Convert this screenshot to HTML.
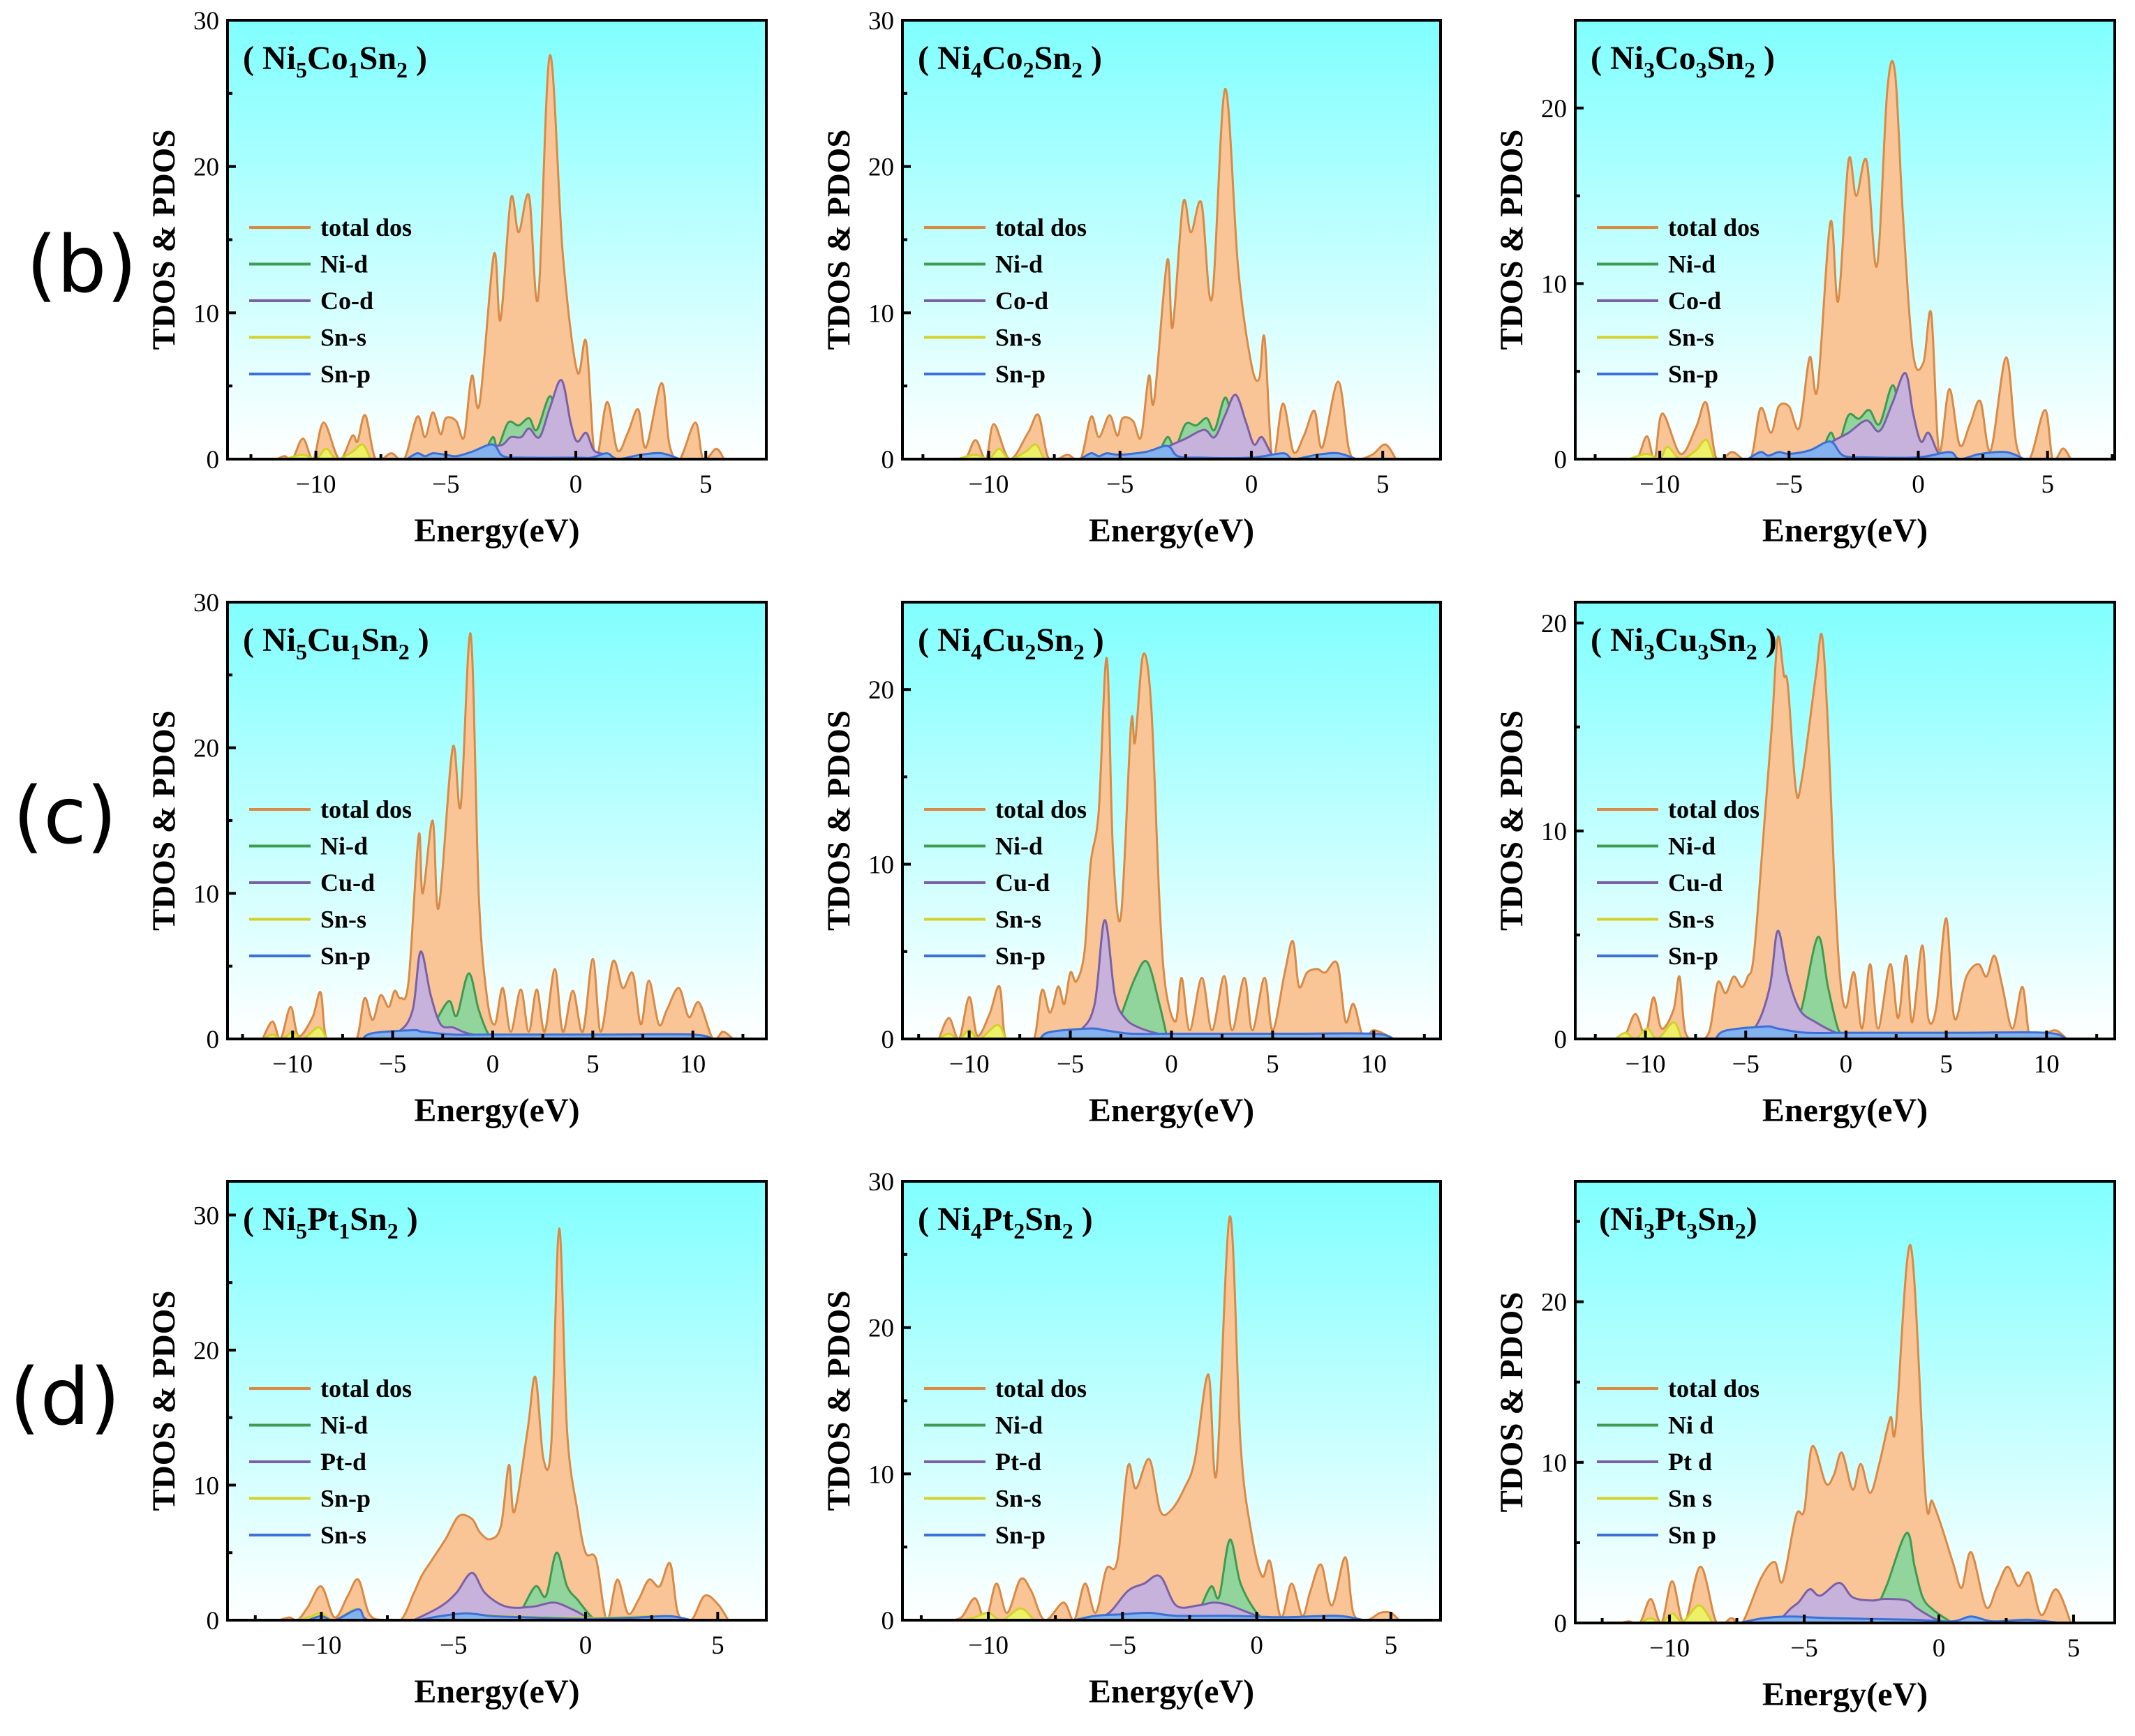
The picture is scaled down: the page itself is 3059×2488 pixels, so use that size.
<!DOCTYPE html>
<html><head><meta charset="utf-8">
<style>
html,body{margin:0;padding:0;background:#fff;}
svg text{font-family:"Liberation Serif",serif;}
</style></head>
<body>
<svg id="fig" xmlns="http://www.w3.org/2000/svg" width="3059" height="2483" viewBox="0 0 3059 2483">
<defs>
<linearGradient id="bg" x1="0" y1="0" x2="0" y2="1">
<stop offset="0" stop-color="#80FFFF"/><stop offset="1" stop-color="#FFFFFF"/>
</linearGradient>
</defs>
<text x="117" y="418" text-anchor="middle" font-size="112" style="font-family:'DejaVu Sans',sans-serif">(b)</text>
<text x="93" y="1208" text-anchor="middle" font-size="112" style="font-family:'DejaVu Sans',sans-serif">(c)</text>
<text x="93" y="2041" text-anchor="middle" font-size="112" style="font-family:'DejaVu Sans',sans-serif">(d)</text>
</svg>
<script>
// ---- data (energy, dos pairs) ----
const b1Total=[-11.5,0,-11.2,0.2,-10.9,0,-10.5,1.4,-10.1,0,-9.7,2.5,-9.1,0,-8.6,1.6,-8.4,1.2,-8.1,3.0,-7.7,0,-7.1,0.4,-6.6,0,-6.1,2.9,-5.8,1.5,-5.5,3.2,-5.2,1.7,-5.0,2.8,-4.6,2.6,-4.3,1.5,-4.0,5.7,-3.7,3.8,-3.15,14.0,-2.9,9.5,-2.5,17.8,-2.2,15.5,-1.8,18.0,-1.45,11.0,-1.0,27.6,-0.5,14,0.05,6.0,0.4,8.0,0.75,0,1.2,3.9,1.6,0.6,2.0,1.8,2.4,3.4,2.7,0.8,3.3,5.2,3.6,1,4.0,0,4.6,2.5,4.9,0,5.4,0.7,5.7,0];
const b1NiD=[-3.6,0,-3.2,1.5,-3.0,0.8,-2.6,2.5,-2.2,2.3,-1.8,2.8,-1.5,2.0,-1.0,4.3,-0.7,2.5,-0.3,1.0,0.3,0.3,0.9,0];
const b1CoD=[-3.7,0,-3.2,0.8,-2.8,1.0,-2.5,1.5,-2.1,1.5,-1.8,2.1,-1.4,1.5,-1.0,3.5,-0.55,5.4,-0.2,2.5,0.05,1.2,0.4,1.8,0.7,0.6,1.2,0.3,1.6,0];
const b1SnS=[-11.2,0,-10.5,0.3,-10.0,0,-9.6,0.7,-9.2,0,-8.6,0.5,-8.2,1.0,-7.9,0];
const b1SnP=[-6.5,0,-6.1,0.4,-5.8,0.2,-5.5,0.4,-5.0,0.3,-4.6,0.2,-4.0,0.5,-3.2,1.0,-2.8,0.2,-2.0,0.1,0,0.1,0.6,0.1,1.2,0.4,1.6,0,2.5,0.3,3.3,0.4,4.0,0];

const b2Total=[-11.5,0,-10.9,0,-10.5,1.3,-10.1,0,-9.8,2.4,-9.2,0,-8.5,1.8,-8.1,3.0,-7.7,0,-7.0,0.3,-6.5,0,-6.1,2.9,-5.8,1.5,-5.4,3.0,-5.1,1.6,-4.9,2.8,-4.5,2.6,-4.2,1.5,-3.9,5.7,-3.7,4.0,-3.2,13.6,-3.0,9.0,-2.6,17.5,-2.3,15.5,-1.9,17.5,-1.5,11,-1.0,25.3,-0.5,13,0,6.5,0.3,5.5,0.5,8.3,0.8,0,1.2,3.8,1.6,0.5,2.0,1.6,2.4,3.3,2.7,0.8,3.3,5.3,3.7,0.8,4.0,0,4.6,0.3,5.1,1.0,5.5,0];
const b2NiD=[-3.6,0,-3.2,1.5,-2.9,0.8,-2.5,2.4,-2.1,2.3,-1.7,2.8,-1.4,2.0,-1.0,4.2,-0.7,2.5,-0.3,1.0,0.3,0.3,0.8,0];
const b2CoD=[-3.6,0,-3.2,0.8,-2.5,1.4,-1.8,2.0,-1.4,1.5,-1.0,3.0,-0.6,4.4,-0.2,2.5,0.1,1.0,0.4,1.5,0.8,0.3,1.3,0];
const b2SnS=[-11.2,0,-10.5,0.3,-10.0,0,-9.6,0.7,-9.2,0,-8.6,0.5,-8.2,1.0,-7.9,0];
const b2SnP=[-6.5,0,-6.1,0.4,-5.8,0.2,-5.5,0.4,-5.0,0.3,-4.0,0.5,-3.2,0.9,-2.8,0.2,-2.0,0.1,0,0.1,1.2,0.4,1.6,0,2.5,0.3,3.3,0.4,4.0,0];

const b3Total=[-11.5,0,-10.9,0,-10.5,1.3,-10.2,0,-9.9,2.6,-9.2,0.3,-8.6,1.8,-8.2,3.2,-7.8,0,-7.2,0.4,-6.5,0,-6.1,2.9,-5.7,1.5,-5.4,3.0,-5.0,3.0,-4.6,1.8,-4.2,5.8,-3.9,4.0,-3.4,13.5,-3.1,9.0,-2.7,17,-2.4,15,-2.0,17,-1.6,11,-1.2,21,-0.9,22,-0.6,14,-0.2,6,0.2,5.5,0.5,8.3,0.8,0.5,1.2,4,1.6,0.8,2.0,2,2.4,3.3,2.8,0.5,3.4,5.8,3.8,0.8,4.3,0,4.9,2.8,5.2,0,5.6,0.6,5.9,0];
const b3NiD=[-3.8,0,-3.4,1.5,-3.1,0.8,-2.7,2.5,-2.3,2.3,-1.9,2.8,-1.5,2.0,-1.0,4.2,-0.7,2.5,-0.3,1.0,0.3,0.3,0.8,0];
const b3CoD=[-3.8,0,-3.4,0.9,-2.7,1.5,-2.0,2.2,-1.5,1.6,-1.0,3.2,-0.5,4.9,-0.2,2.6,0.1,1.0,0.4,1.5,0.8,0.3,1.3,0];
const b3SnS=[-11.2,0,-10.5,0.3,-10.0,0,-9.7,0.7,-9.2,0,-8.6,0.5,-8.2,1.1,-7.9,0];
const b3SnP=[-6.6,0,-6.1,0.4,-5.8,0.2,-5.4,0.4,-5.0,0.3,-4.2,0.5,-3.4,1.0,-2.9,0.2,-2.0,0.1,0,0.1,1.2,0.4,1.6,0,2.4,0.3,3.4,0.4,4.1,0];

const c1Total=[-11.5,0,-11,1.2,-10.6,0,-10.1,2.2,-9.7,0.2,-9,1.5,-8.6,3.2,-8.3,0,-7.5,0,-6.8,0,-6.4,2.8,-6.0,1.3,-5.6,3.0,-5.2,2.2,-4.9,3.3,-4.6,2.8,-4.2,4,-3.7,14,-3.5,10,-3.0,15,-2.7,9,-2.0,20,-1.6,16,-1.1,27.8,-0.7,10,-0.3,3,0.1,1,0.5,3.5,0.9,0.5,1.4,3.4,1.8,0.5,2.2,3.4,2.6,0.5,3.1,4.8,3.5,0.5,4.0,3.3,4.5,0.5,5.0,5.5,5.4,0.5,6.0,5.3,6.5,3.5,7.0,4.5,7.4,1,7.8,4,8.3,1,8.7,2,9.3,3.5,9.8,1.5,10.3,2.5,11,0,11.5,0.5,12,0];
const c1NiD=[-3.3,0,-3.0,0.8,-2.2,2.6,-1.8,1.6,-1.2,4.5,-0.7,2.0,-0.2,0.3,0.3,0];
const c1CuD=[-6.0,0,-4.7,0.5,-4.0,2,-3.6,6.0,-3.1,3,-2.6,1,-2.0,0.8,-1.5,0.5,-1,0.3,0,0.1,0.5,0];
const c1SnS=[-11.5,0,-11,0.3,-10.5,0,-10,0.5,-9.5,0,-8.7,0.8,-8.3,0];
const c1SnP=[-6.5,0,-6,0.4,-4,0.6,-3.5,0.5,-2,0.3,0,0.3,3,0.3,6,0.3,10,0.3,11,0];

const c2Total=[-11.5,0,-11,1.2,-10.5,0,-10,2.4,-9.6,0.2,-9,1.4,-8.5,3.0,-8.2,0,-7.5,0,-6.8,0,-6.4,2.8,-6.0,1.5,-5.6,3.0,-5.3,2,-5,3.8,-4.7,3.3,-4.3,5,-4.0,10,-3.6,13,-3.2,21.8,-2.9,11,-2.5,7,-2.0,18,-1.8,17,-1.4,22,-1.0,19,-0.6,8,-0.3,3,0.2,1,0.5,3.5,0.9,0.5,1.5,3.5,2,0.5,2.6,3.6,3,0.5,3.6,3.5,4,0.5,4.6,3.5,5,0.5,5.6,3.8,6.0,5.6,6.3,3,6.7,3.8,7.2,4,7.6,3.8,8.2,4.3,8.6,1,9.0,2,9.5,0,10,0.5,11,0];
const c2NiD=[-3.0,0,-2.6,1,-1.8,3.5,-1.2,4.4,-0.6,2,-0.2,0];
const c2CuD=[-5.5,0,-4.5,0.5,-3.8,2,-3.3,6.8,-2.8,2.5,-2.3,1.2,-1.5,0.6,0,0.1,0.5,0];
const c2SnS=[-11.5,0,-11,0.3,-10.5,0,-10,0.5,-9.5,0,-8.6,0.8,-8.2,0];
const c2SnP=[-6.5,0,-6,0.4,-4,0.6,-3.3,0.5,-2,0.3,0,0.3,3,0.3,6,0.3,10,0.3,11,0];

const c3Total=[-11.5,0,-11,0.2,-10.5,1.2,-10,0.2,-9.6,2.0,-9.2,0.5,-8.6,1.4,-8.3,3.0,-8,0.3,-7.3,0,-6.8,0.4,-6.4,2.7,-6,2.2,-5.6,3,-5.2,2.5,-4.9,3,-4.6,4,-4.1,10,-3.7,15,-3.4,19.3,-3.1,17.5,-2.9,17,-2.5,12,-2.2,12.5,-1.5,17.5,-1.2,19.4,-0.9,15,-0.6,8,-0.3,3,0,1.5,0.4,3.2,0.8,0.5,1.2,3.6,1.6,0.5,2.2,3.6,2.6,1,3,4.0,3.3,0.8,3.8,4.5,4.1,1,4.5,1.5,5.0,5.8,5.4,1,6,3,6.6,3.6,7,3.0,7.4,4.0,7.8,2.5,8.3,0.5,8.8,2.5,9.2,0,10,0.3,10.5,0.4,11,0];
const c3NiD=[-2.8,0,-2.2,1.5,-1.4,4.9,-0.9,2.5,-0.4,0.5,0,0];
const c3CuD=[-5.5,0,-4.5,0.6,-3.8,2.5,-3.4,5.2,-2.9,3.0,-2.3,1.4,-1.5,0.8,-0.5,0.3,0.5,0];
const c3SnS=[-11.5,0,-11,0.3,-10.5,0,-9.9,0.5,-9.4,0,-8.6,0.8,-8.2,0];
const c3SnP=[-6.5,0,-6,0.4,-4,0.6,-3.4,0.5,-2,0.3,0,0.3,3,0.3,6,0.3,10,0.3,11,0];

const d1Total=[-11.6,0,-11.2,0.2,-10.9,0,-10.5,1.0,-10,2.5,-9.5,0.2,-9.0,1.8,-8.6,3.0,-8.2,0.5,-7.7,0,-7.0,0,-6.5,2.0,-6.2,3.3,-5.8,4.5,-5.3,6,-4.8,7.7,-4.3,7.5,-4.0,6.5,-3.6,6,-3.2,7,-2.9,11.5,-2.7,8,-2.2,14,-1.9,18,-1.6,12,-1.3,13,-1.0,29,-0.7,14,-0.3,8,0,5,0.4,4.5,0.8,0,1.2,3.0,1.6,0.5,2.0,1.5,2.4,3,2.8,2.5,3.2,4.2,3.5,0.5,4,0,4.5,1.8,5,1.2,5.4,0];
const d1NiD=[-2.9,0,-2.5,0.5,-1.9,2.5,-1.5,1.8,-1.1,5.0,-0.7,2.5,-0.3,1.5,0.2,0.3,0.5,0];
const d1PtD=[-6.5,0,-5.5,1,-4.9,2,-4.3,3.5,-3.8,2,-3,1,-2,1.0,-1.2,1.3,-0.5,0.8,0,0.3,0.6,0];
const d1SnP=[-11,0,-10.5,0.2,-10,0.5,-9.5,0,-8.7,0.8,-8.2,0,-6,0,-4.5,0.4,-3,0.3,-1,0.2,1,0.2,3,0.3,4,0];
const d1SnS=[-10.5,0,-10,0.3,-9.5,0,-8.6,0.8,-8.2,0,-6.5,0,-5.5,0.3,-4.5,0.5,-3.5,0.3,-2,0.2,0,0.1,2,0.2,3.2,0.3,4,0];

const d2Total=[-11.5,0,-11,0.2,-10.5,1.5,-10.1,0,-9.7,2.5,-9.3,0.5,-8.8,2.8,-8.4,2,-7.9,0,-7.2,1.2,-6.8,0,-6.4,2.5,-6,0.5,-5.6,3.5,-5.2,4,-4.8,10.5,-4.5,9,-4.0,11,-3.6,7.5,-3.2,7.5,-2.7,9,-2.3,11,-1.8,16.8,-1.5,10,-1.0,27.6,-0.6,12,-0.2,6,0.2,3,0.5,4,0.9,0.2,1.3,2.5,1.7,0.3,2.0,2,2.4,3.8,2.8,1,3.3,4.3,3.6,0.5,4.1,0,4.6,0.5,5,0.5,5.3,0];
const d2NiD=[-2.6,0,-2.2,0.5,-1.7,2.3,-1.4,1.6,-1.0,5.5,-0.6,2.5,0,0.5,0.4,0];
const d2PtD=[-6.2,0,-5.5,0.5,-4.8,2,-4.2,2.5,-3.6,3.0,-3,1,-2.2,1,-1.6,1.2,-1,1,0,0.3,0.5,0];
const d2SnS=[-11,0,-10.5,0.2,-10,0.5,-9.5,0,-8.8,0.8,-8.3,0];
const d2SnP=[-6.8,0,-6,0.3,-5,0.4,-4,0.5,-3,0.3,-1,0.3,1,0.2,3,0.3,4,0];

const d3Total=[-11.8,0,-11.5,0.1,-11.1,0,-10.7,1.5,-10.3,0,-9.9,2.6,-9.45,0,-8.85,3.5,-8.25,0,-7.7,0.3,-7.3,0,-6.6,2.8,-6.1,3.8,-5.8,2.6,-5.3,6.7,-5.0,7,-4.7,11,-4.2,8.7,-3.9,9.2,-3.6,10.6,-3.2,8.3,-2.9,9.9,-2.55,8.1,-2.2,10,-1.8,12.8,-1.6,12.2,-1.05,23.5,-0.5,8,-0.25,7.6,0.1,6,0.55,3.6,0.85,2.2,1.2,4.4,1.75,1,2.15,2.2,2.55,3.5,2.95,2.3,3.35,3.1,3.8,0.5,4.35,2.1,4.9,0];
const d3NiD=[-2.5,0,-2.2,1.3,-1.9,2.5,-1.2,5.6,-0.9,3.5,-0.6,1.6,-0.2,0.8,0.5,0];
const d3PtD=[-6.0,0,-5.5,0.9,-5.2,1.3,-4.8,2.1,-4.4,1.7,-3.7,2.5,-3.2,1.6,-2.5,1.4,-2.0,1.5,-1.2,1.4,-0.8,0.9,-0.2,0.3,0.3,0];
const d3SnS=[-11.1,0,-10.7,0.3,-10.3,0,-9.9,0.6,-9.5,0.1,-8.9,1.1,-8.4,0];
const d3SnP=[-7.4,0,-6.5,0.3,-5.5,0.4,-4,0.3,-1,0.2,0.5,0.1,1.2,0.4,2,0.1,3.3,0.2,4.5,0];

const xTicksShort=[-10,-5,0,5];
const xTicksLong=[-10,-5,0,5,10];
const yTicks=[0,10,20,30];
const legendB=["total dos","Ni-d","Co-d","Sn-s","Sn-p"];
const legendC=["total dos","Ni-d","Cu-d","Sn-s","Sn-p"];
const legendD1=["total dos","Ni-d","Pt-d","Sn-p","Sn-s"];
const legendD2=["total dos","Ni-d","Pt-d","Sn-s","Sn-p"];
const legendD3=["total dos","Ni d","Pt d","Sn s","Sn p"];

// ---- styles ----
const FILLS=["#F9C597","#92D59C","#C6B2DB","#EEF06A","#84B2EE"];
const STROKES=["#D98A45","#3E9B50","#7B60A8","#D2D22A","#3B70D6"];
const NS="http://www.w3.org/2000/svg";
const svg=document.getElementById('fig');
function mk(tag,attrs,parent){const e=document.createElementNS(NS,tag);for(const k in attrs)e.setAttribute(k,attrs[k]);(parent||svg).appendChild(e);return e;}

const panels=[
 {id:'b1',box:[326,29,1098,658],xr:[-13.4,7.33],ymax:30,xt:xTicksShort,series:[b1Total,b1NiD,b1CoD,b1SnS,b1SnP],leg:legendB,t:[["Ni","5"],["Co","1"],["Sn","2"]],wide:true},
 {id:'b2',box:[1293,29,2064,658],xr:[-13.28,7.2],ymax:30,xt:xTicksShort,series:[b2Total,b2NiD,b2CoD,b2SnS,b2SnP],leg:legendB,t:[["Ni","4"],["Co","2"],["Sn","2"]],wide:true},
 {id:'b3',box:[2257,29,3030,658],xr:[-13.27,7.6],ymax:25,xt:xTicksShort,series:[b3Total,b3NiD,b3CoD,b3SnS,b3SnP],leg:legendB,t:[["Ni","3"],["Co","3"],["Sn","2"]],wide:true},
 {id:'c1',box:[326,863,1098,1489],xr:[-13.25,13.67],ymax:30,xt:xTicksLong,series:[c1Total,c1NiD,c1CuD,c1SnS,c1SnP],leg:legendC,t:[["Ni","5"],["Cu","1"],["Sn","2"]],wide:true},
 {id:'c2',box:[1293,863,2064,1489],xr:[-13.3,13.3],ymax:25,xt:xTicksLong,series:[c2Total,c2NiD,c2CuD,c2SnS,c2SnP],leg:legendC,t:[["Ni","4"],["Cu","2"],["Sn","2"]],wide:true},
 {id:'c3',box:[2257,863,3030,1489],xr:[-13.5,13.4],ymax:21,xt:xTicksLong,series:[c3Total,c3NiD,c3CuD,c3SnS,c3SnP],leg:legendC,t:[["Ni","3"],["Cu","3"],["Sn","2"]],wide:true},
 {id:'d1',box:[326,1693,1098,2322],xr:[-13.55,6.84],ymax:32.5,xt:xTicksShort,series:[d1Total,d1NiD,d1PtD,d1SnP,d1SnS],leg:legendD1,t:[["Ni","5"],["Pt","1"],["Sn","2"]],wide:true},
 {id:'d2',box:[1293,1693,2064,2322],xr:[-13.2,6.85],ymax:30,xt:xTicksShort,series:[d2Total,d2NiD,d2PtD,d2SnS,d2SnP],leg:legendD2,t:[["Ni","4"],["Pt","2"],["Sn","2"]],wide:true},
 {id:'d3',box:[2257,1693,3030,2326],xr:[-13.5,6.53],ymax:27.5,xt:xTicksShort,series:[d3Total,d3NiD,d3PtD,d3SnS,d3SnP],leg:legendD3,t:[["Ni","3"],["Pt","3"],["Sn","2"]],wide:false}
];
const seriesNames=['total-dos','ni-d','m-d','sn-1','sn-2'];

function pathFor(arr,sx,sy){
  const p=[];for(let i=0;i<arr.length;i+=2)p.push([sx(arr[i]),sy(arr[i+1])]);
  let d='M'+p[0][0].toFixed(1)+','+p[0][1].toFixed(1);
  for(let i=0;i<p.length-1;i++){
    const p0=p[i-1]||p[i],p1=p[i],p2=p[i+1],p3=p[i+2]||p[i+1];
    const c1x=p1[0]+(p2[0]-p0[0])/6,c1y=p1[1]+(p2[1]-p0[1])/6;
    const c2x=p2[0]-(p3[0]-p1[0])/6,c2y=p2[1]-(p3[1]-p1[1])/6;
    d+=' C'+c1x.toFixed(1)+','+c1y.toFixed(1)+' '+c2x.toFixed(1)+','+c2y.toFixed(1)+' '+p2[0].toFixed(1)+','+p2[1].toFixed(1);
  }
  return {d,first:p[0],last:p[p.length-1]};
}

panels.forEach(P=>{
  const [x0,y0,x1,y1]=P.box;
  const sx=e=>x0+(e-P.xr[0])/(P.xr[1]-P.xr[0])*(x1-x0);
  const sy=v=>y1-v/P.ymax*(y1-y0);
  const g=mk('g',{});
  
  
  const cp=mk('clipPath',{id:'clip-'+P.id},g);
  mk('rect',{x:x0,y:y0,width:x1-x0,height:y1-y0},cp);
  const bg=mk('rect',{x:x0,y:y0,width:x1-x0,height:y1-y0,fill:'url(#bg)'},g);
  
  
  const sg=mk('g',{'clip-path':'url(#clip-'+P.id+')'},g);
  P.series.forEach((arr,i)=>{
    const r=pathFor(arr,sx,sy);
    const f=mk('path',{d:r.d+' L'+r.last[0].toFixed(1)+','+y1+' L'+r.first[0].toFixed(1)+','+y1+' Z',fill:FILLS[i],stroke:'none'},sg);
    
    
    const l=mk('path',{d:r.d,fill:'none',stroke:STROKES[i],'stroke-width':3},sg);
    
    
  });
  for(let e=Math.ceil(P.xr[0]/2.5)*2.5;e<=P.xr[1];e+=2.5){
    const major=Math.abs(e%5)<1e-6;
    const t=mk('line',{x1:sx(e),x2:sx(e),y1:y1,y2:y1-(major?12:7),stroke:'#000','stroke-width':4},g);
    
    
  }
  P.xt.forEach(v=>{
    const t=mk('text',{x:sx(v),y:y1+48,'text-anchor':'middle','font-size':37},g);
    
    
    t.textContent=v<0?'\u2212'+(-v):String(v);
  });
  for(let v=5;v<P.ymax;v+=5){
    const major=v%10===0;
    const t=mk('line',{x1:x0,x2:x0+(major?12:7),y1:sy(v),y2:sy(v),stroke:'#000','stroke-width':4},g);
    
    
  }
  yTicks.filter(v=>v<=P.ymax+0.01).forEach(v=>{
    const t=mk('text',{x:x0-12,y:sy(v)+13,'text-anchor':'end','font-size':37},g);
    
    
    t.textContent=String(v);
  });
  const fr=mk('rect',{x:x0,y:y0,width:x1-x0,height:y1-y0,fill:'none',stroke:'#000','stroke-width':4},g);
  
  
  const xt=mk('text',{x:(x0+x1)/2,y:y1+118,'text-anchor':'middle','font-size':48,'font-weight':'bold'},g);
  
  
  xt.textContent='Energy(eV)';
  const cy=(y0+y1)/2;
  const yt=mk('text',{x:x0-76,y:cy,'text-anchor':'middle','font-size':47,'font-weight':'bold',transform:'rotate(-90 '+(x0-76)+' '+cy+')'},g);
  
  
  yt.textContent='TDOS & PDOS';
  const tt=mk('text',{x:x0+(P.wide?22:34),y:y0+70,'font-size':48,'font-weight':'bold'},g);
  
  
  let s='<tspan>'+(P.wide?'( ':'(')+'</tspan>';
  P.t.forEach(([el,n])=>{s+='<tspan>'+el+'</tspan><tspan font-size="32" dy="12">'+n+'</tspan><tspan dy="-12">\u200B</tspan>';});
  s+='<tspan>'+(P.wide?' )':')')+'</tspan>';
  tt.innerHTML=s;
  P.leg.forEach((lab,i)=>{
    const ly=y0+297+i*52.5;
    const ln=mk('line',{x1:x0+31,x2:x0+119,y1:ly,y2:ly,stroke:STROKES[i],'stroke-width':4},g);
    
    
    const lt=mk('text',{x:x0+133,y:ly+12,'font-size':36,'font-weight':'bold'},g);
    
    
    lt.textContent=lab;
  });
});
</script>
</body></html>
